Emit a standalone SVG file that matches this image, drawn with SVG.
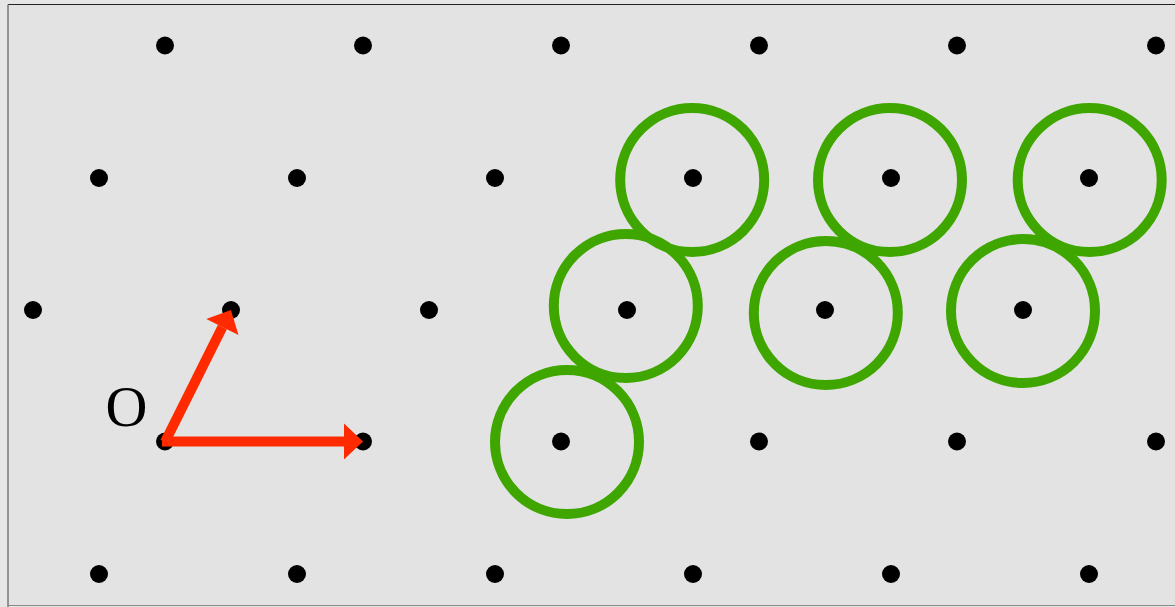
<svg xmlns="http://www.w3.org/2000/svg" width="1175" height="607" viewBox="0 0 1175 607">
  <style>
    .dot { fill: #000; }
    .ring { fill: none; stroke: #3fa600; stroke-width: 10; }
    .vec { stroke: #ff2a00; stroke-width: 10; fill: none; }
    .label { font-family: "Liberation Serif", "Times New Roman", serif; font-size: 58px; fill: #000; }
  </style>
  <defs>
    <marker id="head" markerUnits="userSpaceOnUse" markerWidth="20" markerHeight="38" refX="0" refY="18" orient="auto" overflow="visible">
      <path d="M0,0 L19,18 L0,36 Z" fill="#ff2a00"/>
    </marker>
  </defs>

  <!-- page -->
  <rect x="0" y="0" width="1175" height="607" fill="#e6e6e6"/>
  <rect x="8" y="4.5" width="1180" height="601" fill="#e3e3e3"/>
  <line x1="8" y1="4.5" x2="1175" y2="4.5" stroke="#222" stroke-width="1.2"/>
  <line x1="8" y1="4.5" x2="8" y2="607" stroke="#777" stroke-width="1.5"/>
  <line x1="8" y1="605.5" x2="1175" y2="605.5" stroke="#888" stroke-width="1.2"/>

  <!-- lattice points -->
  <g id="lattice">
    <circle class="dot" cx="165" cy="45.5" r="9"/>
    <circle class="dot" cx="363" cy="45.5" r="9"/>
    <circle class="dot" cx="561" cy="45.5" r="9"/>
    <circle class="dot" cx="759" cy="45.5" r="9"/>
    <circle class="dot" cx="957" cy="45.5" r="9"/>
    <circle class="dot" cx="1156" cy="45.5" r="9"/>

    <circle class="dot" cx="99" cy="178" r="9"/>
    <circle class="dot" cx="297" cy="178" r="9"/>
    <circle class="dot" cx="495" cy="178" r="9"/>
    <circle class="dot" cx="693" cy="178" r="9"/>
    <circle class="dot" cx="891" cy="178" r="9"/>
    <circle class="dot" cx="1089" cy="178" r="9"/>

    <circle class="dot" cx="33" cy="310" r="9"/>
    <circle class="dot" cx="231" cy="310" r="9"/>
    <circle class="dot" cx="429" cy="310" r="9"/>
    <circle class="dot" cx="627" cy="310" r="9"/>
    <circle class="dot" cx="825" cy="310" r="9"/>
    <circle class="dot" cx="1023" cy="310" r="9"/>

    <circle class="dot" cx="165" cy="441.5" r="9"/>
    <circle class="dot" cx="363" cy="441.5" r="9"/>
    <circle class="dot" cx="561" cy="441.5" r="9"/>
    <circle class="dot" cx="759" cy="441.5" r="9"/>
    <circle class="dot" cx="957" cy="441.5" r="9"/>
    <circle class="dot" cx="1156" cy="441.5" r="9"/>

    <circle class="dot" cx="99" cy="574" r="9"/>
    <circle class="dot" cx="297" cy="574" r="9"/>
    <circle class="dot" cx="495" cy="574" r="9"/>
    <circle class="dot" cx="693" cy="574" r="9"/>
    <circle class="dot" cx="891" cy="574" r="9"/>
    <circle class="dot" cx="1089" cy="574" r="9"/>
  </g>

  <!-- circles around selected points -->
  <g id="ring-1"><circle class="ring" cx="567" cy="442" r="72"/></g>
  <g id="ring-2"><circle class="ring" cx="625.8" cy="306" r="72"/></g>
  <g id="ring-3"><circle class="ring" cx="692.2" cy="180" r="72"/></g>
  <g id="ring-4"><circle class="ring" cx="890" cy="180" r="72"/></g>
  <g id="ring-5"><circle class="ring" cx="825.8" cy="313" r="72"/></g>
  <g id="ring-6"><circle class="ring" cx="1089.7" cy="180" r="72"/></g>
  <g id="ring-7"><circle class="ring" cx="1023" cy="311" r="72"/></g>

  <!-- origin label -->
  <g id="origin">
    <text class="label" x="105.5" y="426">O</text>
  </g>

  <!-- basis vectors -->
  <g id="vectors">
    <line class="vec" x1="162" y1="441.5" x2="344" y2="441.5" marker-end="url(#head)"/>
    <line class="vec" x1="165" y1="442" x2="222.4" y2="327" marker-end="url(#head)"/>
  </g>
</svg>
